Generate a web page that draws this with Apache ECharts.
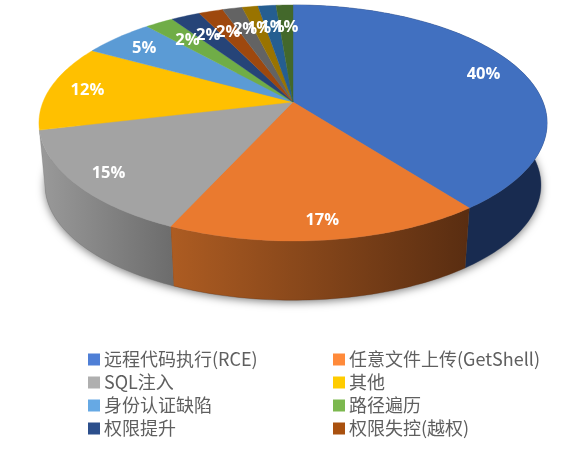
<!DOCTYPE html>
<html><head><meta charset="utf-8">
<style>html,body{margin:0;padding:0;background:#fff}#c{width:586px;height:455px}</style>
<script src="https://cdn.jsdelivr.net/npm/echarts@6/dist/echarts.min.js"></script>
</head><body><div id="c"></div>
<script>
const categories = ['远程代码执行(RCE)','任意文件上传(GetShell)','SQL注入','其他','身份认证缺陷','路径遍历','权限提升','权限失控(越权)'];
const values = [39.7,17.1,14.5,11.9,5.4,2.15,2.2,1.83,1.5,1.2,1.36,1.28];
const percentLabels = ['40%','17%','15%','12%','5%','2%','2%','2%','2%','1%','1%','1%'];
const topColors = ['#4170c0','#ea7a2f','#a3a3a3','#ffc000','#5b9bd5','#70ad47','#264478','#9e480e','#636363','#997300','#255e91','#43682b'];
const sideLight = ['#182b50','#ad5c22','#9a9a9a'];
const sideDark  = ['#182b50','#592d11','#6c6c6c'];
const legendColors = ['#4f7fd6','#ff8a3a','#afafaf','#ffcc00','#66a9e4','#7cb84f','#2c4f8c','#a9510f'];
const legendLeft = categories.filter((_,i)=>i%2===0);
const legendRight = categories.filter((_,i)=>i%2===1);

// projection of the tilted disc
const CX=293, CY=102, RX=250, RY=114.3, K=0.178, SCALE=0.976, DEPTH=62.5;
const total = values.reduce((a,b)=>a+b,0);
const starts=[]; let acc=0;
values.forEach(v=>{starts.push(acc); acc+=v/total*Math.PI*2;});
function rim(t){const u=Math.sin(t),v=Math.cos(t),d=1+K*v;return [RX*u/d,-RY*v/d];}
function topPt(t){const p=rim(t);return [CX+p[0],CY+p[1]];}
function botPt(t){const p=rim(t);return [CX+p[0]*SCALE,CY+p[1]*SCALE+DEPTH];}
function arc(f,a,b){const n=Math.max(4,Math.ceil((b-a)/0.02)),o=[];for(let i=0;i<=n;i++)o.push(f(a+(b-a)*i/n));return o;}
function range(i){return [starts[i],starts[i]+values[i]/total*Math.PI*2];}

function renderSide(params,api){
  const i=params.dataIndex,[a,b]=range(i),kids=[];
  if(i===0){
    kids.push({type:'polygon',shape:{points:arc(botPt,0,Math.PI*2)},
      style:{fill:'#999',shadowBlur:9,shadowColor:'rgba(0,0,0,0.5)',shadowOffsetY:2}});
  }
  if(i<sideLight.length){
    const t=arc(topPt,a,b),m=arc(botPt,a,b).reverse();
    const xs=t.concat(m).map(p=>p[0]);
    const x0=Math.min.apply(null,xs),x1=Math.max.apply(null,xs);
    kids.push({type:'polygon',shape:{points:t.concat(m)},
      style:{fill:new echarts.graphic.LinearGradient(x0,0,x1,0,[{offset:0,color:sideLight[i]},{offset:1,color:sideDark[i]}],true),
        stroke:sideDark[i],lineWidth:0.3}});
  }
  return {type:'group',children:kids};
}
function renderTop(params,api){
  const i=params.dataIndex,[a,b]=range(i);
  return {type:'polygon',shape:{points:[[CX,CY]].concat(arc(topPt,a,b))},
    style:{fill:topColors[i],stroke:topColors[i],lineWidth:0.4}};
}
function renderLabel(params,api){
  const i=params.dataIndex,[a,b]=range(i),p=rim((a+b)/2),f=api.value(0)<3?0.79:0.85;
  return {type:'text',x:CX+p[0]*f,y:CY+p[1]*f+1.5,
    style:{text:percentLabels[i],fill:'#fff',font:'bold 16.5px "Open Sans","Noto Sans",sans-serif',align:'center',verticalAlign:'middle'}};
}
const legendBase={orient:'vertical',selectedMode:false,itemWidth:12,itemHeight:12,itemGap:0,
  icon:'rect',textStyle:{color:'#5f5f5f',fontSize:18,lineHeight:23,height:23,padding:[0,0,0,-1],
  fontFamily:'"Noto Sans CJK SC","Open Sans",sans-serif'}};
const legendData=list=>list.map(n=>({name:n,itemStyle:{color:legendColors[categories.indexOf(n)]}}));
const chart=echarts.init(document.getElementById('c'),null,{renderer:'canvas'});
chart.setOption({
  animation:false,backgroundColor:'#fff',
  legend:[
    Object.assign({},legendBase,{left:83,top:343,data:legendData(legendLeft)}),
    Object.assign({},legendBase,{left:328,top:343,data:legendData(legendRight)})
  ],
  series:[
    {type:'pie',name:'legend',radius:[0,0],center:[293,102],silent:true,label:{show:false},labelLine:{show:false},
      data:categories.map((n,i)=>({name:n,value:values[i],itemStyle:{color:legendColors[i]}}))},
    {type:'custom',name:'sides',coordinateSystem:'none',silent:true,z:1,data:values.map(v=>[v]),renderItem:renderSide},
    {type:'custom',name:'tops',coordinateSystem:'none',silent:true,z:2,data:values.map(v=>[v]),renderItem:renderTop},
    {type:'custom',name:'labels',coordinateSystem:'none',silent:true,z:3,data:values.map(v=>[v]),renderItem:renderLabel}
  ]
});
</script></body></html>
